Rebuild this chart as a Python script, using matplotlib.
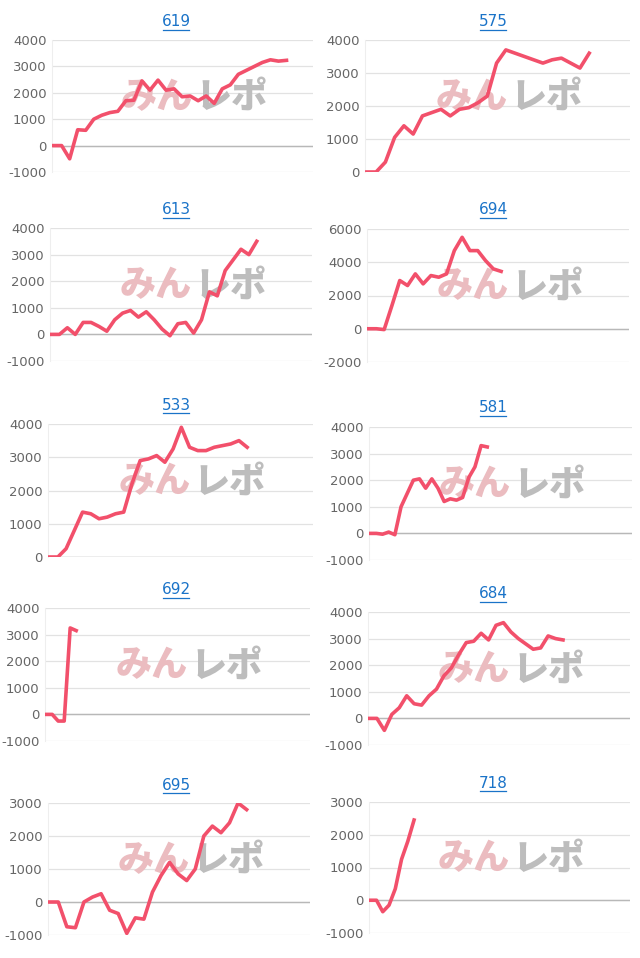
import matplotlib
matplotlib.use("Agg")
import matplotlib.pyplot as plt
from matplotlib.ticker import FixedLocator

plt.rcParams["axes.unicode_minus"] = False

W, H = 640, 958

titles = ["619", "575", "613", "694", "533", "581", "692", "684", "695", "718"]

v619 = [0, 0, -500, 600, 580, 1000, 1150, 1250, 1300, 1700, 1720, 2450, 2100, 2480, 2100,
        2150, 1850, 1880, 1700, 1880, 1600, 2150, 2300, 2700, 2850, 3000, 3150, 3250, 3200, 3230]
v575 = [0, 0, 300, 1050, 1400, 1150, 1700, 1800, 1900, 1700, 1900, 1950, 2100, 2300, 3300,
        3700, 3600, 3500, 3400, 3300, 3400, 3450, 3300, 3150, 3600]
v613 = [0, 0, 250, 0, 450, 450, 300, 120, 550, 800, 900, 650, 850, 550, 200, -50, 400, 450,
        50, 550, 1600, 1450, 2400, 2800, 3200, 3000, 3500]
v694 = [0, 0, -50, 1400, 2900, 2600, 3300, 2700, 3200, 3100, 3300, 4700, 5500, 4700, 4700,
        4100, 3600, 3450]
v533 = [0, 0, 250, 800, 1350, 1300, 1150, 1200, 1300, 1350, 2200, 2900, 2950, 3050, 2850,
        3250, 3900, 3300, 3200, 3200, 3300, 3350, 3400, 3500, 3300]
v581 = [0, 0, -30, 50, -50, 1000, 1500, 2000, 2050, 1700, 2050, 1700, 1200, 1300, 1250,
        1350, 2100, 2500, 3300, 3250]
v692 = [0, 0, -250, -250, 3250, 3150]
v684 = [0, 0, -450, 150, 400, 850, 550, 500, 850, 1100, 1600, 1900, 2400, 2850, 2900, 3200,
        2950, 3500, 3600, 3250, 3000, 2800, 2600, 2650, 3100, 3000, 2950]
v695 = [0, 0, -750, -780, 0, 150, 250, -250, -350, -950, -480, -520, 300, 800, 1200, 850,
        650, 1000, 2000, 2300, 2100, 2400, 3000, 2800]
v718 = [0, 0, -350, -150, 350, 1250, 1800, 2450]

series = [v619, v575, v613, v694, v533, v581, v692, v684, v695, v718]
xmax = [32.3, 28.4, 33, 33.4, 32, 42.5, 44, 35, 30.4, 41.5]
yticks = [
    [-1000, 0, 1000, 2000, 3000, 4000],
    [0, 1000, 2000, 3000, 4000],
    [-1000, 0, 1000, 2000, 3000, 4000],
    [-2000, 0, 2000, 4000, 6000],
    [0, 1000, 2000, 3000, 4000],
    [-1000, 0, 1000, 2000, 3000, 4000],
    [-1000, 0, 1000, 2000, 3000, 4000],
    [-1000, 0, 1000, 2000, 3000, 4000],
    [-1000, 0, 1000, 2000, 3000],
    [-1000, 0, 1000, 2000, 3000],
]
# pixel boxes: left, right, top, bottom
boxes = [
    (52, 313, 40, 172), (365, 630, 40, 172),
    (50, 312, 228, 361), (367, 629, 229, 362),
    (48, 313, 424, 557), (369, 632, 427, 560),
    (45, 310, 608, 741), (368, 630, 612, 745),
    (48, 310, 803, 935), (369, 630, 802, 933),
]
title_y = [22, 22, 210, 210, 405, 408, 590, 594, 785, 783]

fig = plt.figure(figsize=(W / 100, H / 100), dpi=100, facecolor="white")
cjk = ["Noto Sans CJK JP", "DejaVu Sans"]

for i, vals in enumerate(series):
    l, r, t, b = boxes[i]
    ax = fig.add_axes([l / W, 1 - b / H, (r - l) / W, (b - t) / H])
    ax.plot(range(len(vals)), vals, color="#f2506b", lw=2.6, zorder=3)
    ax.set_xlim(-0.2, xmax[i])
    ax.set_ylim(yticks[i][0], yticks[i][-1])
    ax.yaxis.set_major_locator(FixedLocator(yticks[i]))
    ax.set_xticks([])
    for s in ["top", "right", "bottom"]:
        ax.spines[s].set_visible(False)
    ax.spines["left"].set_color("#eeeeee")
    ax.grid(axis="y", color="#e2e2e2", lw=0.9)
    ax.axhline(0, color="#b8b8b8", lw=1, zorder=2)
    ax.tick_params(axis="y", length=0, labelsize=9.5, labelcolor="#666666", pad=4)
    ax.set_axisbelow(True)
    # watermark
    ax.text(0.54, 0.57, "みん", transform=ax.transAxes, ha="right", va="center",
            fontsize=26, fontweight="black", color="#ebbcc0",
            family=cjk, zorder=1)
    ax.text(0.55, 0.57, "レポ", transform=ax.transAxes, ha="left", va="center",
            fontsize=26, fontweight="black", color="#bdbdbd",
            family=cjk, zorder=1)
    cx = 493 if i % 2 else 176
    fig.text(cx / W, 1 - title_y[i] / H, titles[i], ha="center", va="center",
             fontsize=11, color="#1a73c8")
    fig.lines.append(plt.Line2D([(cx - 13) / W, (cx + 13) / W],
                                [1 - (title_y[i] + 8) / H] * 2,
                                transform=fig.transFigure, color="#1a73c8", lw=0.9))

fig.savefig("out.png", dpi=100, facecolor="white")
